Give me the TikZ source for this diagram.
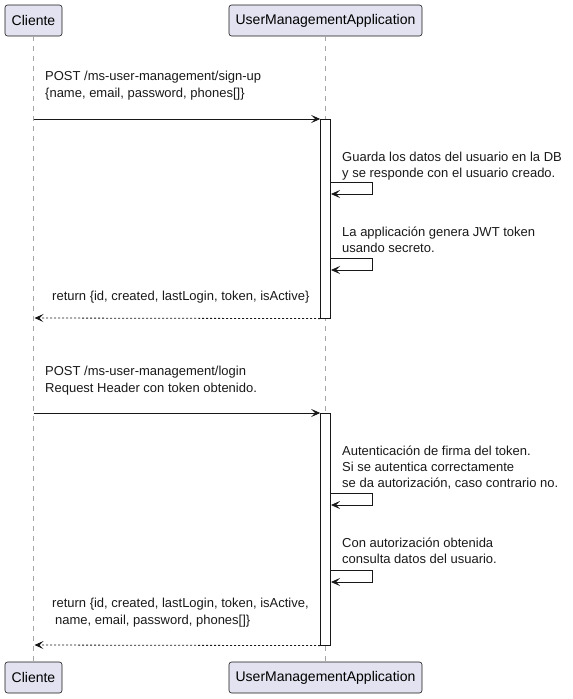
\documentclass[tikz,border=0pt]{standalone}
\usepackage{fontspec}
\setmainfont{Liberation Sans}
\usetikzlibrary{arrows.meta}
\definecolor{partfill}{HTML}{E2E2F0}
\definecolor{ink}{HTML}{181818}
\begin{document}
\begin{tikzpicture}[x=1pt,y=-1pt,
 part/.style={draw=ink, fill=partfill, rounded corners=2.5pt, line width=0.6pt, minimum height=31pt, inner xsep=0pt, font=\fontsize{14}{16}\selectfont, text=black},
 msg/.style={anchor=base west, inner sep=0pt, font=\fontsize{13}{15}\selectfont, text=black!90},
 life/.style={draw=gray!70, line width=0.8pt, dash pattern=on 5pt off 5pt},
 act/.style={draw=ink, fill=white, line width=0.6pt, inner sep=0pt, minimum width=10pt, anchor=north},
 tip/.style={-{Stealth[length=9pt,width=8pt,inset=4pt]}},
 call/.style={draw=ink, line width=0.8pt, tip},
 ret/.style={draw=ink, line width=0.8pt, dash pattern=on 2pt off 2pt, tip},
]
\useasboundingbox (0,0) rectangle (573,699);
% participants
\node[part, minimum width=57pt] (cl) at (33.5,20.5) {Cliente};
\node[part, minimum width=193pt] (ua) at (325.5,20.5) {UserManagementApplication};
\node[part, minimum width=57pt] (clb) at (33.5,677.5) {Cliente};
\node[part, minimum width=193pt] (uab) at (325.5,677.5) {UserManagementApplication};
% lifelines
\draw[life] (cl.south) -- (clb.north);
\draw[life] (ua.south) -- (uab.north);
% activations
\node[act, minimum height=199pt] (a1) at (325.5,119) {};
\node[act, minimum height=232pt] (a2) at (325.5,413) {};
% coordinates on lifelines
\coordinate (c1) at (33.5,119);
\coordinate (r1) at (34.5,318);
\coordinate (c2) at (33.5,413);
\coordinate (r2) at (34.5,645);
\coordinate (s1a) at (330.5,182);
\coordinate (s1b) at (331,194);
\coordinate (s2a) at (330.5,258);
\coordinate (s2b) at (331,270);
\coordinate (s3a) at (330.5,493);
\coordinate (s3b) at (331,505);
\coordinate (s4a) at (330.5,570);
\coordinate (s4b) at (331,582);
% message 1
\node[msg] (t1a) at (45,80) {POST /ms-user-management/sign-up};
\node[msg] (t1b) at (45,97) {\{name, email, password, phones[]\}};
\draw[call] (c1) -- (a1.north west);
% self 1
\node[msg] (t2a) at (342,161) {Guarda los datos del usuario en la DB};
\node[msg] (t2b) at (342,177) {y se responde con el usuario creado.};
\draw[call] (s1a) -- ++(42,0) |- (s1b);
% self 2
\node[msg] (t3a) at (342,236) {La applicación genera JWT token};
\node[msg] (t3b) at (342,252) {usando secreto.};
\draw[call] (s2a) -- ++(42,0) |- (s2b);
% return 1
\node[msg] (t4a) at (52,300) {return \{id, created, lastLogin, token, isActive\}};
\draw[ret] (a1.south west) -- (r1);
% message 2
\node[msg] (t5a) at (45,375) {POST /ms-user-management/login};
\node[msg] (t5b) at (45,392) {Request Header con token obtenido.};
\draw[call] (c2) -- (a2.north west);
% self 3
\node[msg] (t6a) at (342,455) {Autenticación de firma del token.};
\node[msg] (t6b) at (342,471) {Si se autentica correctamente};
\node[msg] (t6c) at (342,487) {se da autorización, caso contrario no.};
\draw[call] (s3a) -- ++(42,0) |- (s3b);
% self 4
\node[msg] (t7a) at (342,547) {Con autorización obtenida};
\node[msg] (t7b) at (342,563) {consulta datos del usuario.};
\draw[call] (s4a) -- ++(42,0) |- (s4b);
% return 2
\node[msg] (t8a) at (52,607) {return \{id, created, lastLogin, token, isActive,};
\node[msg] (t8b) at (55,624) {name, email, password, phones[]\}};
\draw[ret] (a2.south west) -- (r2);
\end{tikzpicture}
\end{document}
